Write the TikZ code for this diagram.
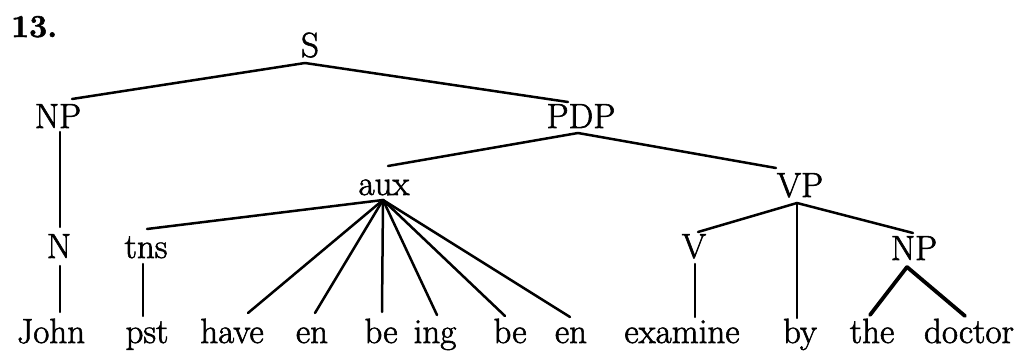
\documentclass[tikz,border=0pt]{standalone}
\usepackage{fontspec}
\setmainfont{Latin Modern Roman}[FakeBold=1.7]
\begin{document}
\begin{tikzpicture}[x=1pt,y=-1pt,
  lab/.style={anchor=base,inner sep=0pt,font=\fontsize{35}{40}\selectfont},
  edge/.style={line width=2.5pt,line cap=round},
  thick edge/.style={line width=3.8pt,line cap=round}]
\useasboundingbox (0,0) rectangle (1029,355);
\node[anchor=base west,inner sep=0pt,font=\fontsize{32}{36}\selectfont\bfseries] (num) at (11,37) {13.};
% labels
\node[lab] (S) at (310,57) {S};
\node[lab] (NPa) at (58,128) {NP};
\node[lab] (PDP) at (581,128) {PDP};
\node[lab] (aux) at (384,195) {aux};
\node[lab] (VP) at (800,197) {VP};
\node[lab] (N) at (59,258) {N};
\node[lab] (tns) at (146,258) {tns};
\node[lab] (V) at (694,258) {V};
\node[lab] (NPb) at (914,260) {NP};
% words
\node[lab] (John) at (51,343) {John};
\node[lab] (pst) at (147,343) {pst};
\node[lab] (have) at (232,343) {have};
\node[lab] (enA) at (312,343) {en};
\node[lab] (beA) at (381,343) {be};
\node[lab] (ing) at (435,343) {ing};
\node[lab] (beB) at (510,343) {be};
\node[lab] (enB) at (571,343) {en};
\node[lab] (examine) at (682,343) {examine};
\node[lab] (by) at (800,343) {by};
\node[lab] (the) at (872,343) {the};
\node[lab] (doctor) at (969,343) {doctor};
% connectors
\draw[edge] ([shift={(-5,6)}]S.base) -- ([shift={(14,-29)}]NPa.base);
\draw[edge] ([shift={(-5,6)}]S.base) -- ([shift={(-13,-26)}]PDP.base);
\draw[edge] ([shift={(2,4)}]NPa.base) -- ([shift={(1,-31)}]N.base);
\draw[edge] ([shift={(1,8)}]N.base) -- ([shift={(9,-31)}]John.base);
\draw[edge] ([shift={(-3,5)}]PDP.base) -- ([shift={(4,-29)}]aux.base);
\draw[edge] ([shift={(-3,5)}]PDP.base) -- ([shift={(-24,-29)}]VP.base);
\draw[edge] ([shift={(-1,5)}]aux.base) -- ([shift={(1,-29)}]tns.base);
\draw[edge] ([shift={(-3,6)}]tns.base) -- ([shift={(-4,-27)}]pst.base);
\draw[edge] ([shift={(-1,5)}]aux.base) -- ([shift={(16,-30)}]have.base);
\draw[edge] ([shift={(-1,5)}]aux.base) -- ([shift={(3,-30)}]enA.base);
\draw[edge] ([shift={(-1,5)}]aux.base) -- ([shift={(1,-31)}]beA.base);
\draw[edge] ([shift={(-1,5)}]aux.base) -- ([shift={(2,-28)}]ing.base);
\draw[edge] ([shift={(-1,5)}]aux.base) -- ([shift={(-5,-27)}]beB.base);
\draw[edge] ([shift={(-1,5)}]aux.base) -- ([shift={(-1,-26)}]enB.base);
\draw[edge] ([shift={(-3,6)}]VP.base) -- ([shift={(4,-26)}]V.base);
\draw[edge] ([shift={(-3,6)}]VP.base) -- ([shift={(-3,-25)}]by.base);
\draw[edge] ([shift={(-3,6)}]VP.base) -- ([shift={(-1,-27)}]NPb.base);
\draw[edge] ([shift={(1,6)}]V.base) -- ([shift={(13,-26)}]examine.base);
\draw[thick edge] ([shift={(-7,7)}]NPb.base) -- ([shift={(-2,-28)}]the.base);
\draw[thick edge] ([shift={(-7,7)}]NPb.base) -- ([shift={(-4,-27)}]doctor.base);
\end{tikzpicture}
\end{document}
